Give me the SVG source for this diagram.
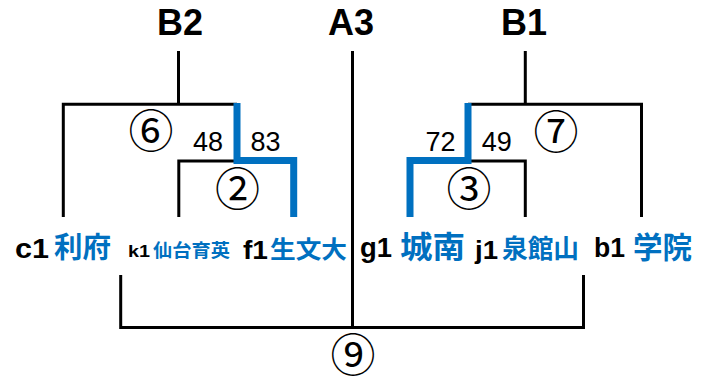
<svg xmlns="http://www.w3.org/2000/svg" width="716" height="378" viewBox="0 0 716 378">
<style>
.ln{fill:none;stroke:#000;stroke-width:3;stroke-linecap:butt}
.win{fill:none;stroke:#0070C0;stroke-width:7;stroke-linejoin:miter}
.hd{font-family:"Liberation Sans",Arial,sans-serif;font-weight:bold;font-size:36px;fill:#000;text-anchor:middle}
.sc{font-family:"Liberation Sans",Arial,sans-serif;font-size:27px;fill:#000;text-anchor:middle}
.rd{font-family:"Noto Sans CJK JP",sans-serif;font-size:45px;fill:#000;text-anchor:middle}
.lt{font-family:"Liberation Sans",Arial,sans-serif;font-weight:bold;fill:#000}
.cj{font-family:"Noto Sans CJK JP",sans-serif;font-weight:bold;fill:#0070C0}
</style>
<rect width="716" height="378" fill="#fff"/>
<g id="connectors">
<path class="ln" d="M178.5,51 V104.3 M63.3,217 V104.3 H237"/>
<path class="ln" d="M178.8,217 V161 H237"/>
<path class="ln" d="M525.3,51 V104.3 M468,104.3 H641.5 V217"/>
<path class="ln" d="M468,161 H525.3 V217"/>
<path class="ln" d="M352.5,51 V327.5 M120.7,275 V327.5 H583.5 V275"/>
<path class="win" d="M237,103 V160.5 H293.7 V217"/>
<path class="win" d="M468,103 V160.5 H410 V217"/>
</g>
<g id="heads">
<text class="hd" x="180" y="35">B2</text>
<text class="hd" x="351" y="35">A3</text>
<text class="hd" x="524" y="35">B1</text>
</g>
<g id="scores">
<text class="sc" x="208" y="150.5">48</text>
<text class="sc" x="265.5" y="150.5">83</text>
<text class="sc" x="440.5" y="150.5">72</text>
<text class="sc" x="496.7" y="150.5">49</text>
</g>
<g id="rounds">
<text class="rd" x="151" y="147.5">⑥</text>
<text class="rd" x="237.5" y="205.5">②</text>
<text class="rd" x="556" y="148.5">⑦</text>
<text class="rd" x="469" y="205.5">③</text>
<text class="rd" x="353" y="371.5" font-size="43">⑨</text>
</g>
<g id="team-c1"><text class="lt" x="15" y="257.5" font-size="27" textLength="34" lengthAdjust="spacingAndGlyphs">c1</text><text class="cj" x="54" y="258" font-size="29" textLength="57" lengthAdjust="spacingAndGlyphs">利府</text></g>
<g id="team-k1"><text class="lt" x="128" y="256.5" font-size="17" textLength="22" lengthAdjust="spacingAndGlyphs">k1</text><text class="cj" x="153" y="256.5" font-size="18" textLength="77" lengthAdjust="spacingAndGlyphs">仙台育英</text></g>
<g id="team-f1"><text class="lt" x="243" y="258.5" font-size="25" textLength="25" lengthAdjust="spacingAndGlyphs">f1</text><text class="cj" x="270" y="258" font-size="24" textLength="77" lengthAdjust="spacingAndGlyphs">生文大</text></g>
<g id="team-g1"><text class="lt" x="360" y="256.5" font-size="27" textLength="32" lengthAdjust="spacingAndGlyphs">g1</text><text class="cj" x="400" y="258" font-size="31" textLength="65" lengthAdjust="spacingAndGlyphs">城南</text></g>
<g id="team-j1"><text class="lt" x="475" y="258.5" font-size="26" textLength="23" lengthAdjust="spacingAndGlyphs">j1</text><text class="cj" x="502" y="258" font-size="26" textLength="77" lengthAdjust="spacingAndGlyphs">泉館山</text></g>
<g id="team-b1"><text class="lt" x="594" y="257" font-size="27" textLength="31" lengthAdjust="spacingAndGlyphs">b1</text><text class="cj" x="633" y="258" font-size="30" textLength="59" lengthAdjust="spacingAndGlyphs">学院</text></g>
</svg>
